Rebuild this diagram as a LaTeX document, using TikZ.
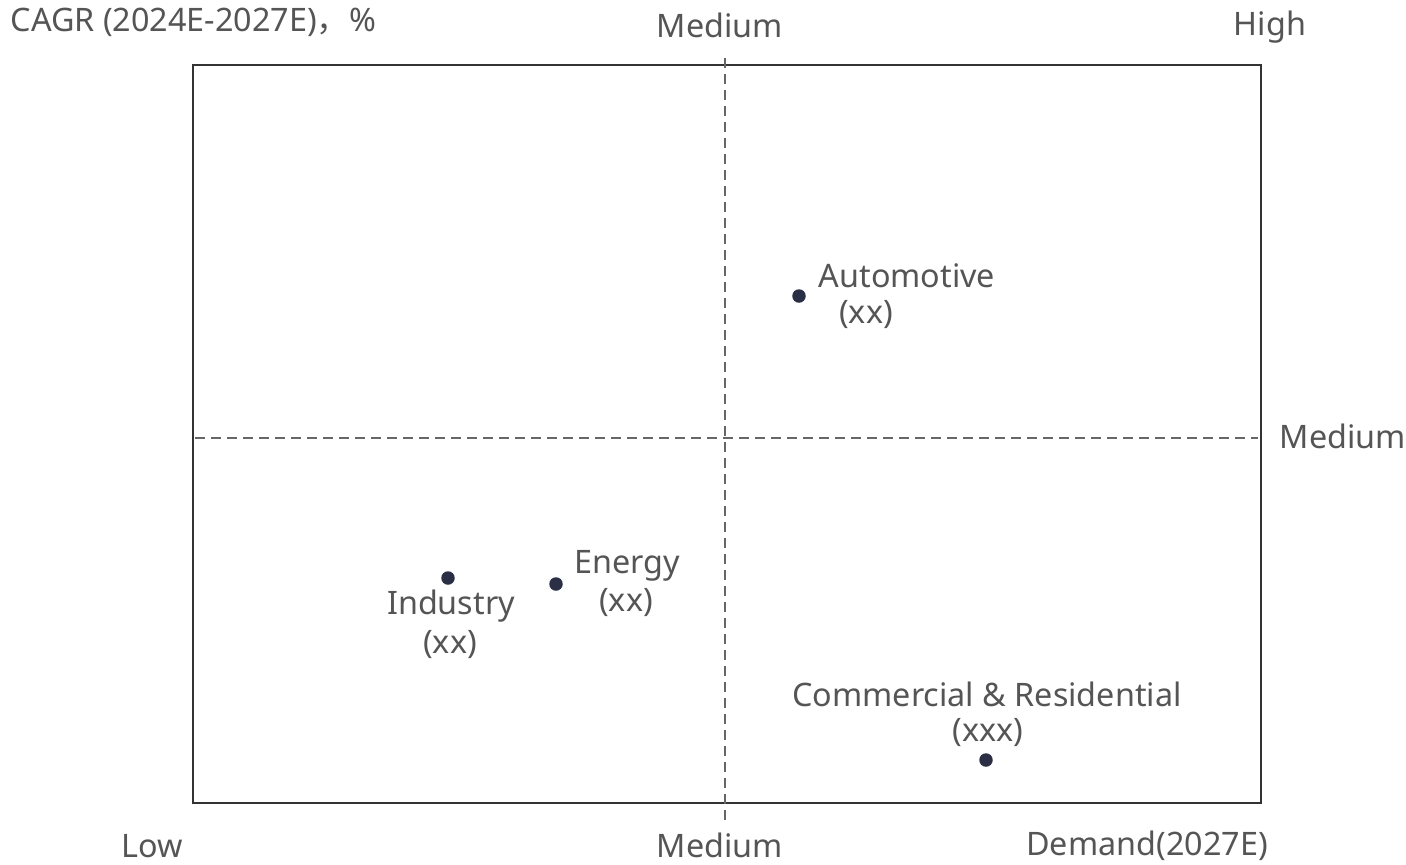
\documentclass[tikz,border=0pt]{standalone}
\usepackage{fontspec}
\setmainfont{Noto Sans}
\newfontfamily\cjkfont{Noto Sans CJK SC}
\begin{document}
\begin{tikzpicture}[x=0.1mm,y=-0.1mm,
  lbl/.style={text=txtgray,font=\fontsize{9.2}{11}\selectfont,inner sep=0pt},
  dot/.style={circle,fill=dotcol,inner sep=0pt,minimum size=1.35mm},
  divider/.style={draw=linegray,line width=0.35pt,dash pattern=on 1mm off 0.6mm}]
\definecolor{txtgray}{HTML}{555555}
\definecolor{dotcol}{HTML}{2A2F45}
\definecolor{linegray}{HTML}{666666}
\useasboundingbox[fill=white] (0,0) rectangle (1406,864);
% frame
\node[draw=black!80,line width=0.7pt,inner sep=0pt,minimum width=106.8mm,minimum height=73.8mm] (frame) at (727,434) {};
% dividers
\coordinate (vtop) at (725,58);
\coordinate (vbot) at (725,822);
\coordinate (hl) at (195,438);
\coordinate (hr) at (1258,438);
\draw[divider] (vtop) -- (vbot);
\draw[divider] (hl) -- (hr);
% axis labels
\node[lbl,anchor=west] (cagr) at (10,22) {CAGR (2024E-2027E){\cjkfont ，}\%};
\node[lbl] (topmed) at (720,25) {Medium};
\node[lbl] (high) at (1270,27) {High};
\node[lbl] (rmed) at (1343,436) {Medium};
\node[lbl] (low) at (152,846) {Low};
\node[lbl] (botmed) at (720,845) {Medium};
\node[lbl] (demand) at (1147,846) {Demand(2027E)};
% points
\node[dot] (auto) at (799,296) {};
\node[lbl] (autoA) at (907,276) {Automotive};
\node[lbl] (autoB) at (866,314) {(xx)};
\node[dot] (energy) at (556,584) {};
\node[lbl] (energyA) at (627,566) {Energy};
\node[lbl] (energyB) at (626,602) {(xx)};
\node[dot] (ind) at (448,578) {};
\node[lbl] (indA) at (451,606) {Industry};
\node[lbl] (indB) at (450,644) {(xx)};
\node[dot] (com) at (986,760) {};
\node[lbl] (comA) at (987,694) {Commercial \& Residential};
\node[lbl] (comB) at (988,732) {(xxx)};
\end{tikzpicture}
\end{document}
